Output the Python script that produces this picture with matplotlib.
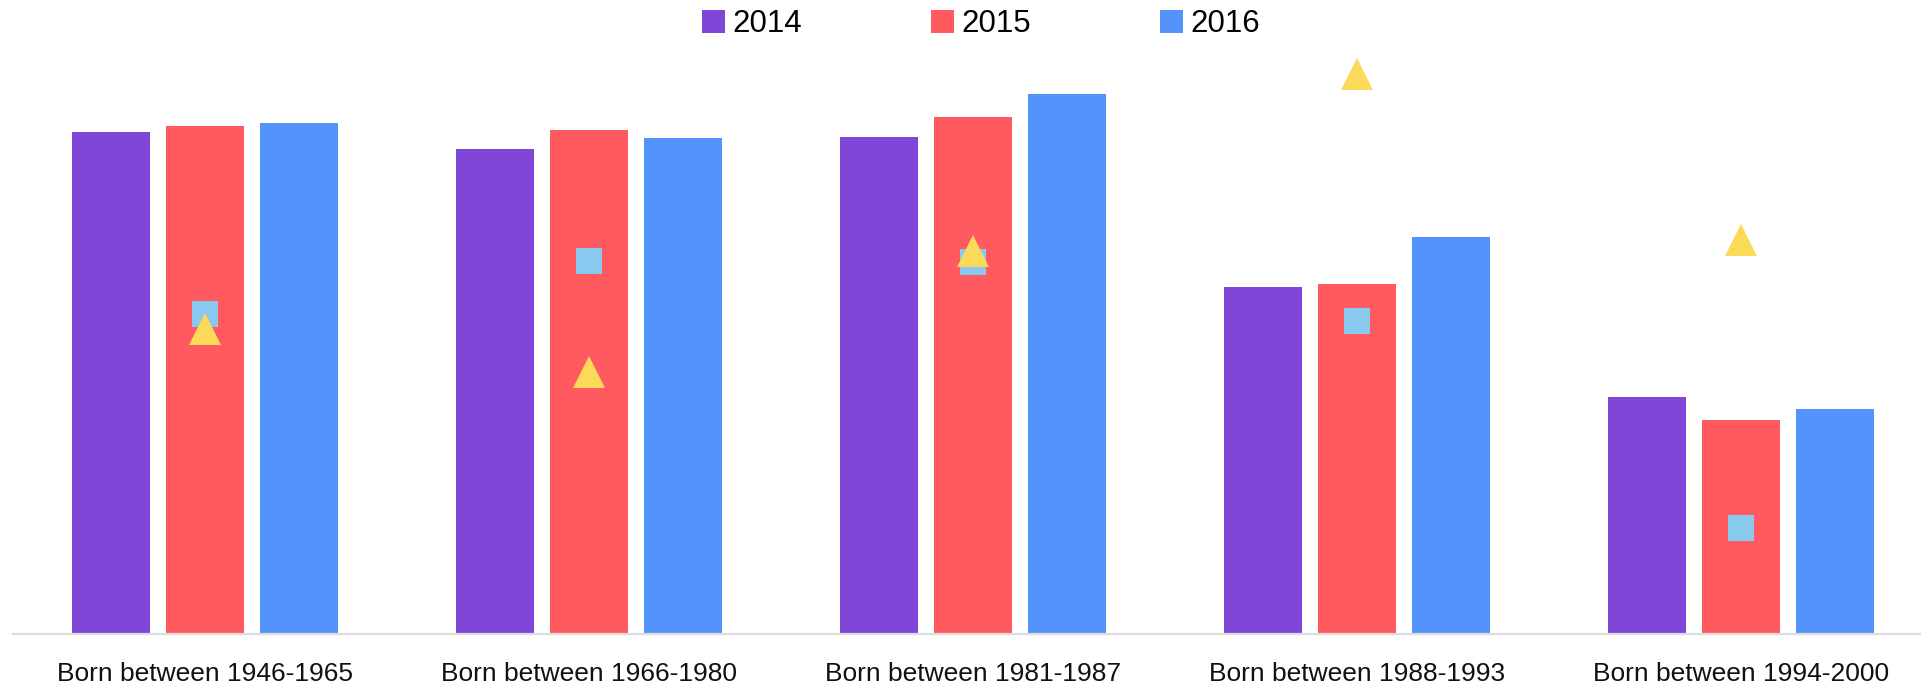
import matplotlib
matplotlib.use("Agg")
import matplotlib.pyplot as plt
from matplotlib.patches import Patch
import numpy as np

plt.rcParams['font.family'] = ['Liberation Sans', 'DejaVu Sans']

categories = ["Born between 1946-1965", "Born between 1966-1980", "Born between 1981-1987",
              "Born between 1988-1993", "Born between 1994-2000"]
series_names = ["2014", "2015", "2016"]
values_2014 = [83.7, 80.8, 82.8, 57.8, 39.5]
values_2015 = [84.7, 84.0, 86.2, 58.3, 35.7]
values_2016 = [85.2, 82.7, 90.0, 66.2, 37.5]
square_values = [53.3, 62.2, 62.0, 52.2, 17.7]
triangle_values = [50.9, 43.6, 63.9, 93.4, 65.6]

bar_colors = ["#8046D8", "#FF5A5F", "#5593FC"]
square_color = "#89C9EF"
triangle_color = "#FBD959"

W, H = 1921, 689
fig = plt.figure(figsize=(W / 100, H / 100), dpi=100)
ax = fig.add_axes([13 / W, (H - 634) / H, (W - 13) / W, 634 / H])

x = np.arange(len(categories))
bw = 78 / 384
off = 94 / 384
for i, (vals, c) in enumerate(zip([values_2014, values_2015, values_2016], bar_colors)):
    ax.bar(x + (i - 1) * off, vals, width=bw, color=c, linewidth=0, zorder=2)

ax.plot(x, square_values, linestyle='none', marker='s', markersize=18.2,
        markerfacecolor=square_color, markeredgewidth=0, zorder=3)
ax.plot(x, triangle_values, linestyle='none', marker='^', markersize=22.5,
        markerfacecolor=triangle_color, markeredgewidth=0, zorder=4)

ax.set_xlim(-0.5, -0.5 + (W - 13) / 384)
ax.set_ylim(0, 634 / 6)

for s in ['top', 'right', 'left']:
    ax.spines[s].set_visible(False)
ax.spines['bottom'].set_color('#DDDDDD')
ax.spines['bottom'].set_linewidth(1.6)
ax.set_yticks([])
ax.set_xticks(x)
ax.set_xticklabels(categories, fontsize=19, color='#111111')
ax.tick_params(axis='x', length=0, pad=20)

handles = [Patch(facecolor=c, edgecolor='none') for c in bar_colors]
fig.legend(handles, series_names, loc='center', ncol=3, frameon=False,
           bbox_to_anchor=(981 / W, 1 - 24 / H), fontsize=22.5,
           handlelength=0.75, handleheight=0.75, handletextpad=0.25,
           columnspacing=4.1, borderpad=0, borderaxespad=0)

fig.savefig("out.png", dpi=100, facecolor='white')
